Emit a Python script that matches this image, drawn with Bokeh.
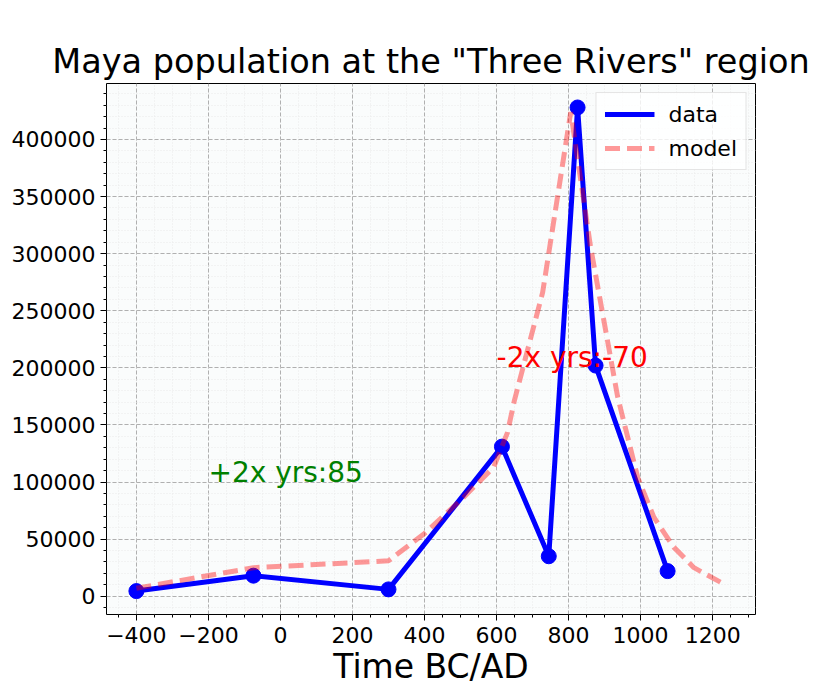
from bokeh.plotting import figure
from bokeh.models import (ColumnDataSource, SingleIntervalTicker, BasicTickFormatter,
                          CustomJSTickFormatter, Legend, LegendItem, Range1d)
from bokeh.core.properties import value
from bokeh.embed import file_html
from bokeh.resources import INLINE

# observed population estimates
years = [-400, -75, 300, 615, 745, 825, 875, 1075]
population = [4500, 18000, 6000, 131000, 35000, 428000, 202000, 22000]

# fitted model curve
model_years = [-400, -75, 300, 400, 500, 592, 611, 630, 650, 728, 806,
               861, 936, 992, 1037, 1092, 1148, 1238]
model_population = [7000, 25000, 31000, 55000, 84000, 113000, 128000, 143000, 172000,
                     266000, 424000, 306000, 175000, 104000, 69000, 43000, 25000, 9500]

# doubling-time notes
note_x = [-200, 600]
note_y = [100000, 200000]
note_text = ["+2x yrs:85", "-2x yrs:-70"]
note_color = ["green", "red"]

FONT = "DejaVu Sans"

p = figure(frame_width=649, frame_height=531,
           min_border_left=106, min_border_right=85, min_border_top=83, min_border_bottom=76,
           x_range=Range1d(-483, 1319), y_range=Range1d(-16000, 449000),
           output_backend="svg", toolbar_location=None,
           title='Maya population at the "Three Rivers" region')

p.title.text_font = FONT
p.title.text_font_size = "33.5px"
p.title.text_font_style = "normal"
p.title.text_color = "black"
p.title.align = "center"
p.title.standoff = 5

p.background_fill_color = "#fafcfc"
p.outline_line_color = "black"
p.outline_line_width = 1

data_src = ColumnDataSource(dict(x=years, y=population))
model_src = ColumnDataSource(dict(x=model_years, y=model_population))
note_src = ColumnDataSource(dict(x=note_x, y=note_y, text=note_text, color=note_color))

data_line = p.line("x", "y", source=data_src, line_color="blue", line_width=5)
p.scatter("x", "y", source=data_src, size=15, fill_color="blue", line_color="blue")
model_line = p.line("x", "y", source=model_src, line_color="red", line_alpha=0.4,
                    line_width=5, line_dash="15 7")

p.text("x", "y", text="text", source=note_src, text_color="color",
       text_font=value(FONT), text_font_size="28px", y_offset=-10,
       text_align="left", text_baseline="alphabetic")

# axes
p.xaxis.ticker = SingleIntervalTicker(interval=200, num_minor_ticks=4)
p.yaxis.ticker = SingleIntervalTicker(interval=50000, num_minor_ticks=5)
p.yaxis.formatter = BasicTickFormatter(use_scientific=False)
p.xaxis.formatter = CustomJSTickFormatter(
    code="return tick < 0 ? '\u2212' + Math.abs(tick) : '' + tick;")

for ax in (p.xaxis, p.yaxis):
    ax.major_label_text_font = FONT
    ax.major_label_text_font_size = "22px"
    ax.major_label_text_color = "black"
    ax.axis_line_color = None
    ax.major_tick_in = 0
    ax.major_tick_out = 6
    ax.minor_tick_in = 0
    ax.minor_tick_out = 3
    ax.major_tick_line_color = "black"
    ax.minor_tick_line_color = "black"

p.xaxis.major_label_standoff = 6
p.xaxis.axis_label = "Time BC/AD"
p.xaxis.axis_label_text_font = FONT
p.xaxis.axis_label_text_font_size = "33px"
p.xaxis.axis_label_text_font_style = "normal"
p.xaxis.axis_label_text_color = "black"
p.xaxis.axis_label_standoff = 1

# grid
p.grid.grid_line_color = "#b0b0b0"
p.grid.grid_line_dash = "4 2"
p.grid.grid_line_width = 1
p.grid.minor_grid_line_color = "#ebebeb"
p.grid.minor_grid_line_dash = "1 2"

legend = Legend(items=[LegendItem(label="data", renderers=[data_line]),
                       LegendItem(label="model", renderers=[model_line])],
                location="top_right")
legend.label_text_font = FONT
legend.label_text_font_size = "22px"
legend.label_text_color = "black"
legend.glyph_width = 50
legend.label_height = 26
legend.label_standoff = 14
legend.spacing = 8
legend.padding = 8
legend.margin = 9
legend.border_line_color = "#cccccc"
legend.background_fill_alpha = 0.8
p.add_layout(legend)

open("out.html", "w").write(file_html(p, INLINE))
